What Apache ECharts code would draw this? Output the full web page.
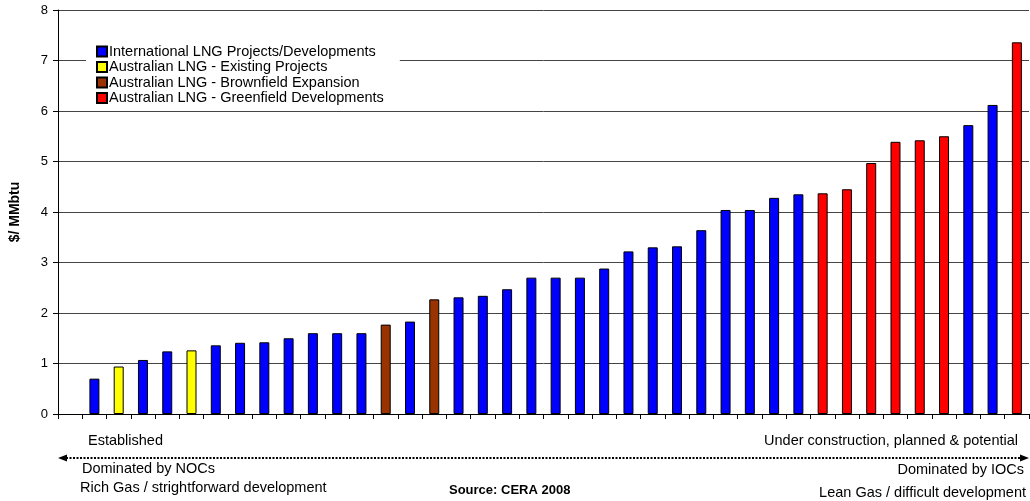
<!DOCTYPE html>
<html>
<head>
<meta charset="utf-8">
<script src="https://cdn.jsdelivr.net/npm/echarts@6/dist/echarts.min.js"></script>
<style>
    html, body { margin: 0; padding: 0; background: #fff; }
    #chart { width: 1030px; height: 501px; }
</style>
</head>
<body>
<div id="chart"></div>
<script>
    // first category is empty in the original chart
    var categories = ['', '1', '2', '3', '4', '5', '6', '7', '8', '9', '10', '11', '12', '13', '14', '15', '16', '17', '18', '19',
        '20', '21', '22', '23', '24', '25', '26', '27', '28', '29', '30', '31', '32', '33', '34', '35', '36', '37', '38', '39'];
    var costs = [null, 0.70, 0.94, 1.07, 1.24, 1.26, 1.36, 1.41, 1.42, 1.50, 1.60, 1.60, 1.60, 1.77, 1.83, 2.27, 2.31, 2.34, 2.47, 2.70,
        2.70, 2.70, 2.88, 3.22, 3.30, 3.32, 3.64, 4.04, 4.04, 4.28, 4.35, 4.37, 4.45, 4.97, 5.39, 5.42, 5.50, 5.72, 6.12, 7.36];
    // 0 = international, 1 = aus existing, 2 = brownfield, 3 = greenfield
    var groups = [-1, 0, 1, 0, 0, 1, 0, 0, 0, 0, 0, 0, 0, 2, 0, 2, 0, 0, 0, 0,
        0, 0, 0, 0, 0, 0, 0, 0, 0, 0, 0, 3, 3, 3, 3, 3, 3, 0, 0, 3];
    var seriesNames = ['International LNG Projects/Developments', 'Australian LNG - Existing Projects',
        'Australian LNG - Brownfield Expansion', 'Australian LNG - Greenfield Developments'];
    var seriesColors = ['#0000ff', '#ffff00', '#993300', '#ff0000'];
    var yTicks = [0, 1, 2, 3, 4, 5, 6, 7, 8];

    var font = 'Liberation Sans, Arial, sans-serif';

    var series = seriesNames.map(function (name, g) {
        return {
            name: name,
            type: 'bar',
            barWidth: 10,
            barGap: '-100%',
            itemStyle: { color: seriesColors[g], borderColor: '#000', borderWidth: 1 },
            data: costs.map(function (v, i) { return groups[i] === g ? v : null; })
        };
    });

    var chart = echarts.init(document.getElementById('chart'));
    chart.setOption({
        animation: false,
        grid: { left: 53, right: 1, top: 10, bottom: 87 },
        legend: {
            orient: 'vertical',
            left: 86,
            top: 42,
            padding: [2, 16, 2, 10],
            itemGap: 0.5,
            itemWidth: 10,
            itemHeight: 10,
            backgroundColor: '#fff',
            textStyle: { fontFamily: font, fontSize: 14.5, lineHeight: 14, color: '#000', padding: [0, 0, 0, -3] },
            data: seriesNames.map(function (n) { return { name: n, icon: 'rect' }; })
        },
        xAxis: {
            type: 'category',
            data: categories,
            boundaryGap: true,
            axisLine: { lineStyle: { color: '#000', width: 1 } },
            axisTick: { show: true, length: 5, lineStyle: { color: '#000' } },
            axisLabel: { show: false }
        },
        yAxis: {
            type: 'value',
            min: yTicks[0],
            max: yTicks[yTicks.length - 1],
            interval: 1,
            name: '$/ MMbtu',
            nameLocation: 'middle',
            nameGap: 36,
            nameTextStyle: { fontFamily: font, fontSize: 14, fontWeight: 'bold', color: '#000' },
            axisLine: { show: true, lineStyle: { color: '#000' } },
            axisTick: { show: true, length: 5, lineStyle: { color: '#000' } },
            axisLabel: { fontFamily: font, fontSize: 13, color: '#000', margin: 10 },
            splitLine: { lineStyle: { color: '#444', width: 1 } }
        },
        series: series,
        graphic: [
            { type: 'text', left: 88, top: 433, style: { text: 'Established', font: '14.5px ' + font, fill: '#000' } },
            { type: 'text', right: 12, top: 433, style: { text: 'Under construction, planned & potential', font: '14.5px ' + font, fill: '#000' } },
            { type: 'line', shape: { x1: 66, y1: 458, x2: 1022, y2: 458 },
                style: { stroke: '#000', lineWidth: 2, lineDash: [2, 1.5] } },
            { type: 'polygon', shape: { points: [[58, 458], [67, 454.5], [67, 461.5]] }, style: { fill: '#000' } },
            { type: 'polygon', shape: { points: [[1029, 458], [1020, 454.5], [1020, 461.5]] }, style: { fill: '#000' } },
            { type: 'text', left: 82, top: 461, style: { text: 'Dominated by NOCs', font: '14.5px ' + font, fill: '#000' } },
            { type: 'text', right: 6, top: 462, style: { text: 'Dominated by IOCs', font: '14.5px ' + font, fill: '#000' } },
            { type: 'text', left: 80, top: 480, style: { text: 'Rich Gas / strightforward development', font: '14.5px ' + font, fill: '#000' } },
            { type: 'text', left: 449, top: 484, style: { text: 'Source: CERA 2008', font: 'bold 13px ' + font, fill: '#000' } },
            { type: 'text', right: 4, top: 485, style: { text: 'Lean Gas / difficult development', font: '14.5px ' + font, fill: '#000' } }
        ]
    });
</script>
</body>
</html>
